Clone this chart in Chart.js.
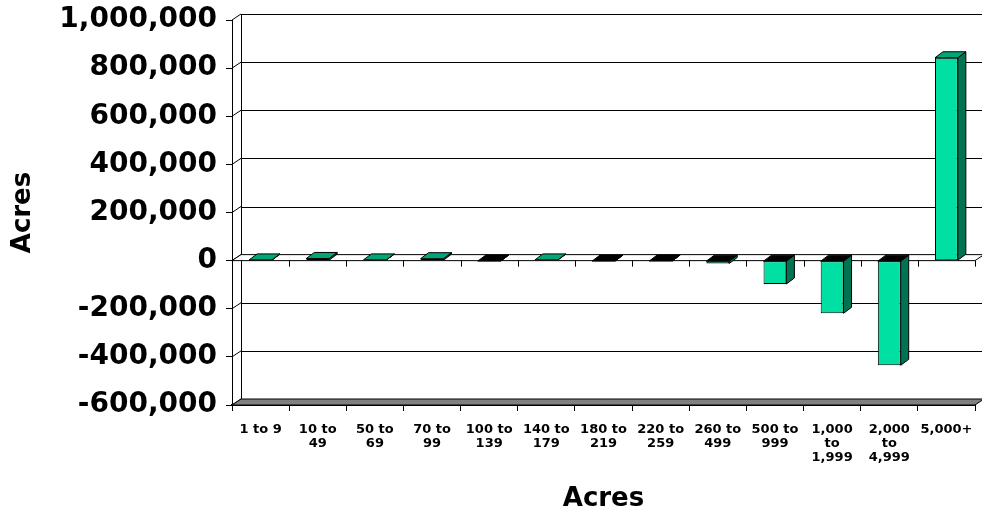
<!DOCTYPE html>
<html>
<head>
<meta charset="utf-8">
<script src="https://cdn.jsdelivr.net/npm/chart.js@4/dist/chart.umd.min.js"></script>
<style>
  html, body { margin: 0; padding: 0; background: #ffffff; }
  #wrap { width: 982px; height: 515px; position: relative; }
</style>
</head>
<body>
<div id="wrap"><canvas id="c" width="982" height="515"></canvas></div>
<script>
// ---- data ----
const categories = [
  ["1 to 9"], ["10 to", "49"], ["50 to", "69"], ["70 to", "99"],
  ["100 to", "139"], ["140 to", "179"], ["180 to", "219"], ["220 to", "259"],
  ["260 to", "499"], ["500 to", "999"], ["1,000", "to", "1,999"],
  ["2,000", "to", "4,999"], ["5,000+"]
];
const acresChange = [3000, 9000, 3000, 8000, -2000, 3000, -2000, -1500, -12000, -97000, -219000, -435000, 843000];
const yMin = -600000;
const yMax = 1000000;
const yStep = 200000;
const xTitle = "Acres";
const yTitle = "Acres";

// ---- styling ----
const FONT = "'DejaVu Sans', Verdana, sans-serif";
const frontColor = "#00E0A2";
const sideColor = "#007352";
const topColor = "#00A677";
const floorColor = "#808080";
const WALL = [9, -6];
const BAR = [8, -6];

function poly(ctx, pts, fill) {
  ctx.beginPath();
  ctx.moveTo(pts[0][0], pts[0][1]);
  for (let i = 1; i < pts.length; i++) ctx.lineTo(pts[i][0], pts[i][1]);
  ctx.closePath();
  if (fill) { ctx.fillStyle = fill; ctx.fill(); }
  ctx.stroke();
}
function seg(ctx, x1, y1, x2, y2) {
  ctx.beginPath(); ctx.moveTo(x1, y1); ctx.lineTo(x2, y2); ctx.stroke();
}

const threeD = {
  id: 'threeD',
  beforeDatasetsDraw(chart) {
    const { ctx, chartArea: a, scales: { x, y } } = chart;
    const [wx, wy] = WALL;
    ctx.save();
    ctx.strokeStyle = '#000';
    ctx.lineWidth = 1;
    y.ticks.forEach(t => {
      const py = y.getPixelForValue(t.value);
      const by = Math.round(py + wy) + 0.5;
      seg(ctx, a.left + wx, by, chart.width + 5, by);
      seg(ctx, a.left, py, a.left + wx, py + wy);
    });
    const yTop = y.getPixelForValue(yMax), yBot = y.getPixelForValue(yMin);
    seg(ctx, Math.round(a.left + wx) + 0.5, yTop + wy, Math.round(a.left + wx) + 0.5, yBot + wy);
    poly(ctx, [[a.left, yBot], [a.right, yBot], [a.right + wx, yBot + wy], [a.left + wx, yBot + wy]], floorColor);
    const y0 = y.getPixelForValue(0);
    poly(ctx, [[a.left, y0], [a.right, y0], [a.right + wx, y0 + wy], [a.left + wx, y0 + wy]], '#ffffff');
    for (let i = 0; i <= categories.length; i++) {
      const px = Math.round(x.getPixelForValue(i - 0.5)) + 0.5;
      seg(ctx, px, y0, px, y0 + 6);
    }
    ctx.restore();
  },
  afterDatasetsDraw(chart) {
    const { ctx } = chart;
    const [bx, by] = BAR;
    const meta = chart.getDatasetMeta(0);
    ctx.save();
    ctx.strokeStyle = '#000';
    ctx.lineWidth = 1;
    meta.data.forEach((bar, i) => {
      const p = bar.getProps(['x', 'y', 'base', 'width'], true);
      const l = p.x - p.width / 2, r = p.x + p.width / 2;
      const top = Math.min(p.y, p.base), bot = Math.max(p.y, p.base);
      const v = acresChange[i];
      poly(ctx, [[r, top], [r + bx, top + by], [r + bx, bot + by], [r, bot]], sideColor);
      poly(ctx, [[l, top], [l + bx, top + by], [r + bx, top + by], [r, top]], v >= 0 ? topColor : '#000000');
    });
    ctx.restore();
  }
};

new Chart(document.getElementById('c'), {
  type: 'bar',
  data: {
    labels: categories,
    datasets: [{
      data: acresChange,
      backgroundColor: frontColor,
      borderColor: '#000',
      borderWidth: 1,
      borderSkipped: false,
      categoryPercentage: 1.0,
      barPercentage: 0.40
    }]
  },
  options: {
    responsive: false,
    animation: false,
    devicePixelRatio: 1,
    layout: { padding: { left: 0, right: 7, top: 20, bottom: 0 } },
    plugins: { legend: { display: false }, tooltip: { enabled: false } },
    scales: {
      x: {
        grid: { display: true, drawOnChartArea: false, tickLength: 6, color: '#000', offset: true },
        border: { display: true, color: '#000', width: 2 },
        ticks: {
          color: '#000', autoSkip: false, maxRotation: 0, minRotation: 0, padding: 12,
          font: { family: FONT, size: 13, weight: 'bold', lineHeight: 1.08 }
        },
        title: {
          display: true, text: xTitle, color: '#000',
          font: { family: FONT, size: 26, weight: 'bold', lineHeight: 1.2 },
          padding: { top: 0, bottom: 0 }
        },
        afterFit(s) { s.height = 110; s.paddingLeft = 0; s.paddingRight = 0; }
      },
      y: {
        min: yMin, max: yMax,
        grid: { display: true, drawOnChartArea: false, tickLength: 6, color: '#000' },
        border: { display: true, color: '#000', width: 1 },
        ticks: {
          stepSize: yStep, color: '#000', padding: 9,
          font: { family: FONT, size: 28, weight: 'bold', lineHeight: 0.9 },
          callback: v => v.toLocaleString('en-US')
        },
        title: {
          display: true, text: yTitle, color: '#000',
          font: { family: FONT, size: 26, weight: 'bold', lineHeight: 1.2 },
          padding: { top: 8, bottom: 0 }
        },
        afterFit(s) { s.width = 232; s.paddingTop = 0; s.paddingBottom = 0; }
      }
    }
  },
  plugins: [threeD]
});
</script>
</body>
</html>
